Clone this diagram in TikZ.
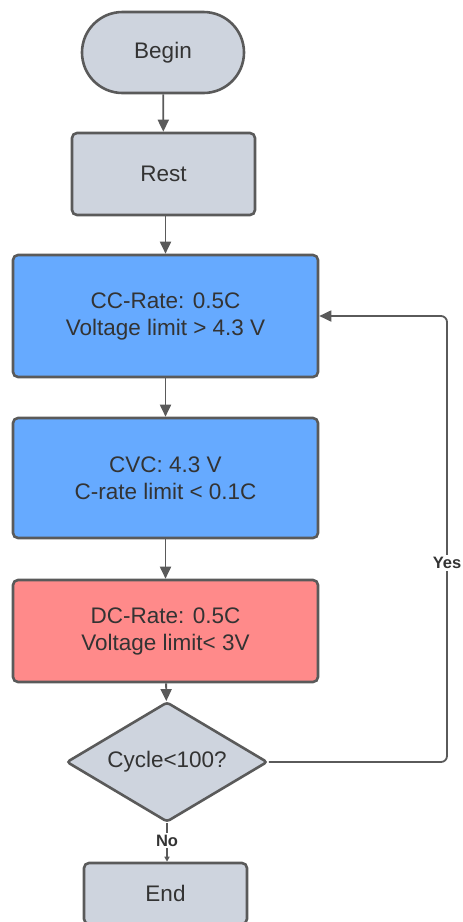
\documentclass[tikz,border=0pt]{standalone}
\usepackage{fontspec}
\setmainfont{Liberation Sans}
\usetikzlibrary{shapes.geometric,shapes.misc,arrows.meta}
\definecolor{grayfill}{HTML}{CED4DE}
\definecolor{bluefill}{HTML}{66AAFF}
\definecolor{redfill}{HTML}{FF8A8A}
\definecolor{edge}{HTML}{5A5A5A}
\definecolor{txt}{HTML}{333333}
\tikzset{
  box/.style={draw=edge, line width=2.6pt, rounded corners=5pt, inner sep=0pt,
    align=center, text=txt, font=\fontsize{22.5}{27}\selectfont},
  pill/.style={rounded rectangle, draw=edge, line width=2.6pt, inner sep=0pt,
    fill=grayfill, text=txt, font=\fontsize{22.5}{27}\selectfont},
  decision/.style={diamond, draw=edge, line width=2.6pt, inner sep=0pt, fill=grayfill,
    text=txt, font=\fontsize{22.5}{27}\selectfont, rounded corners=3pt},
  flow/.style={draw=edge, line width=1.8pt, -{Triangle[length=12pt,width=11pt]}},
  smallflow/.style={draw=edge, line width=1.8pt, -{Triangle[length=5pt,width=5pt]}},
  lbl/.style={fill=white, text=txt, inner sep=2pt, font=\fontsize{16.5}{19}\selectfont\bfseries}
}
\begin{document}
\begin{tikzpicture}[x=1pt,y=-1pt]
\useasboundingbox (0,0) rectangle (463,922);
\node[pill, minimum width=162pt, minimum height=81pt] (begin) at (163,52.5) {Begin};
\node[box, fill=grayfill, minimum width=183pt, minimum height=82pt] (rest) at (163.5,174) {Rest};
\node[box, fill=bluefill, minimum width=305pt, minimum height=122pt] (cc) at (165.5,316) {CC-Rate: 0.5C\\Voltage limit > 4.3 V};
\node[box, fill=bluefill, minimum width=305pt, minimum height=120pt] (cvc) at (165.5,478) {CVC: 4.3 V\\C-rate limit < 0.1C};
\node[box, fill=redfill, minimum width=305pt, minimum height=102pt] (dc) at (165.5,631) {DC-Rate: 0.5C\\Voltage limit< 3V};
\node[decision, minimum width=201pt, minimum height=120pt] (dec) at (167,762) {\makebox[0pt]{Cycle<100?}};
\node[box, fill=grayfill, minimum width=163pt, minimum height=61pt] (end) at (165.5,893.5) {End};
\coordinate (loopB) at (447,762);
\coordinate (loopT) at (447,316);
\draw[flow] (begin) -- (rest);
\draw[flow] (rest.south -| cc.north) -- (cc.north);
\draw[flow] (cc) -- (cvc);
\draw[flow] (cvc) -- (dc);
\draw[flow] (dc) -- (dec);
\draw[smallflow] (dec.south) -- node[lbl, pos=0.45] (no) {No} (dec.south |- end.north);
\draw[flow, rounded corners=6pt] (dec.east) -- (loopB) -- (loopT) -- (cc.east);
\node[lbl] (yes) at (447,563) {Yes};
\end{tikzpicture}
\end{document}
